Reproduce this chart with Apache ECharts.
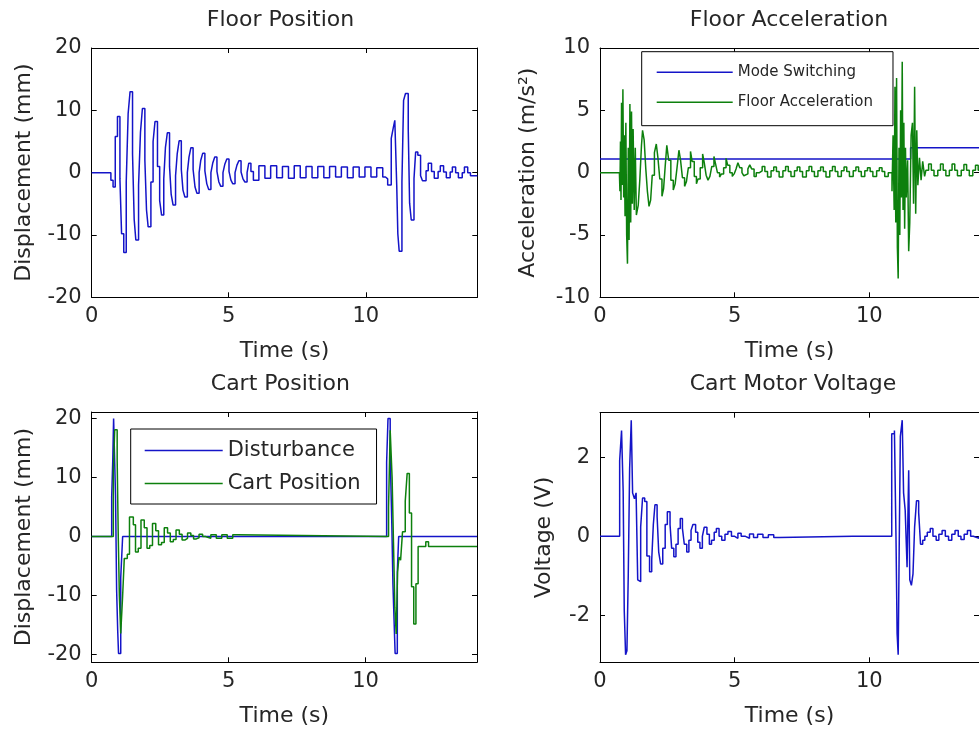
<!DOCTYPE html>
<html>
<head>
<meta charset="utf-8">
<script src="https://cdn.jsdelivr.net/npm/echarts@6/dist/echarts.min.js"></script>
<style>html,body{margin:0;padding:0;background:#fff}#c{width:979px;height:733px}</style>
</head>
<body>
<div id="c"></div>
<script>
// ---------- data (time s, value) ----------
const titles = ['Floor Position', 'Floor Acceleration', 'Cart Position', 'Cart Motor Voltage'];
const yNames = ['Displacement (mm)', 'Acceleration (m/s\u00B2)', 'Displacement (mm)', 'Voltage (V)'];
const xName = 'Time (s)';
const xTicks = [0, 5, 10];
const yTicks = [[-20, -10, 0, 10, 20], [-10, -5, 0, 5, 10], [-20, -10, 0, 10, 20], [-2, 0, 2]];
const seriesNames = ['Floor Position', 'Mode Switching', 'Floor Acceleration', 'Disturbance', 'Cart Position', 'Voltage'];

const floorPos = [
[0,0],[0.70,-1.2],[0.78,-2.3],[0.86,5.8],[0.94,9.0],[1.03,-1.0],[1.09,-9.8],[1.17,-12.8],[1.26,-1.5],[1.33,9.5],[1.40,13.0],[1.49,3.0],[1.55,-7.5],[1.61,-10.8],[1.71,-2.0],[1.78,6.5],[1.85,10.3],[1.94,2.0],[2.00,-6.0],[2.06,-8.7],[2.16,-1.5],[2.24,5.0],[2.31,8.2],[2.40,1.0],[2.48,-4.5],[2.55,-6.8],[2.63,-1.0],[2.69,4.0],[2.76,6.4],[2.84,1.0],[2.90,-3.5],[2.97,-5.2],[3.06,-0.5],[3.12,3.0],[3.19,5.1],[3.27,0.5],[3.33,-2.8],[3.40,-3.9],[3.49,0.0],[3.55,2.5],[3.62,4.0],[3.70,0.5],[3.77,-2.3],[3.84,-3.3],[3.92,0.0],[3.98,2.0],[4.05,3.1],[4.13,0.3],[4.20,-1.8],[4.27,-2.7],[4.35,0.0],[4.42,1.6],[4.49,2.5],[4.57,0.2],[4.64,-1.5],[4.71,-2.2],[4.79,0.0],[4.86,1.4],[4.93,2.2],[5.01,0.2],[5.08,-1.2],[5.15,-1.8],[5.23,0.0],[5.30,1.2],[5.37,1.9],[5.45,0.1],[5.52,-1.0],[5.59,-1.5],[5.67,0.0],[5.73,1.5],[5.81,0.2],[5.90,-1.2],
[6.10,1.1],[6.32,-0.9],[6.53,1.1],[6.75,-0.8],[6.96,1.0],[7.18,-0.9],[7.39,1.1],[7.61,-0.8],[7.82,1.0],[8.04,-0.8],[8.25,1.0],[8.47,-0.8],[8.68,1.0],[8.90,-0.7],[9.11,0.9],[9.33,-0.8],[9.54,0.9],[9.76,-0.7],[9.97,0.9],[10.19,-0.7],[10.40,0.8],[10.62,-0.7],
[10.72,-1.0],[10.80,-2.0],[10.93,5.5],[11.00,7.1],[11.06,8.4],[11.13,-2.0],[11.17,-9.8],[11.22,-12.6],[11.32,-1.5],[11.38,11.6],[11.45,12.7],[11.55,7.0],[11.60,-4.9],[11.66,-7.6],[11.76,-1.0],[11.82,3.3],[11.90,2.8],[12.00,-0.5],[12.07,-1.3],
[12.20,0.3],[12.28,1.5],[12.40,0.2],[12.50,-0.9],[12.64,0.2],[12.72,1.1],[12.84,0.1],[12.94,-0.8],[13.08,0.1],[13.16,0.9],[13.28,0.0],[13.38,-0.8],[13.52,0.0],[13.60,0.9],[13.72,0.0],[13.82,-0.5],[14.07,-0.5]
];

const modeSwitching = [[0,1.1],[11.53,2.0],[14.07,2.0]];

const floorAcc = [
[0,0],[0.72,0],[0.74,-1.5],[0.76,2.5],[0.78,-2.2],[0.80,5.6],[0.83,-1.0],[0.85,6.7],[0.88,-2.0],[0.90,3.0],[0.93,-3.5],[0.96,4.0],[0.99,-5.0],[1.02,-7.3],[1.05,2.0],[1.08,-5.4],[1.11,5.5],[1.14,-4.0],[1.17,4.9],[1.20,-2.5],[1.23,3.5],[1.27,-3.0],[1.31,2.0],[1.35,-3.4],[1.42,-2.6],[1.48,-0.5],[1.54,2.2],[1.58,3.4],[1.64,2.6],[1.70,0.3],[1.76,-1.5],[1.82,-2.7],[1.88,-2.2],[1.94,-0.2],[2.02,1.6],[2.09,2.3],[2.15,1.2],[2.22,-0.5],[2.30,-1.9],[2.36,-1.3],[2.42,0.5],[2.48,2.2],[2.55,1.0],[2.63,-0.6],[2.72,-1.4],[2.79,-0.9],[2.86,0.4],[2.93,1.8],[2.99,1.0],[3.06,-0.4],[3.14,-1.1],[3.21,-0.7],[3.28,0.4],[3.36,1.7],[3.42,0.9],[3.50,-0.3],[3.58,-0.9],[3.64,-0.5],[3.72,0.4],[3.81,1.5],[3.87,0.8],[3.94,-0.2],[4.01,-0.6],[4.08,-0.3],[4.15,0.5],[4.23,1.3],[4.29,0.7],[4.36,0.0],[4.44,-0.35],[4.51,-0.1],[4.59,0.4],[4.68,1.15],[4.74,0.6],[4.82,0.0],[4.91,-0.3],[4.98,-0.1],[5.05,0.3],[5.12,0.8],[5.19,0.4],[5.27,0.0],[5.34,-0.25],[5.41,-0.1],[5.49,0.3],[5.56,0.62],[5.63,0.3],[5.72,-0.3],[5.80,0.0],
[5.92,0.15],[6.02,0.5],[6.12,0.1],[6.22,-0.35],[6.35,0.15],[6.45,0.45],[6.55,0.1],[6.65,-0.35],[6.79,0.15],[6.89,0.5],[6.99,0.1],[7.09,-0.3],[7.22,0.15],[7.32,0.45],[7.42,0.1],[7.52,-0.35],[7.66,0.15],[7.76,0.5],[7.86,0.1],[7.96,-0.3],[8.09,0.15],[8.19,0.45],[8.29,0.1],[8.39,-0.35],[8.53,0.15],[8.63,0.5],[8.73,0.1],[8.83,-0.3],[8.96,0.15],[9.06,0.45],[9.16,0.1],[9.26,-0.3],[9.40,0.15],[9.50,0.45],[9.60,0.1],[9.70,-0.3],[9.83,0.15],[9.93,0.4],[10.03,0.1],[10.13,-0.3],[10.27,0.15],[10.37,0.4],[10.47,0.1],[10.57,-0.3],[10.70,0.0],
[10.84,-1.5],[10.88,3.0],[10.92,-3.0],[10.95,6.9],[10.98,-4.0],[11.01,7.6],[11.04,-6.0],[11.07,-8.5],[11.10,2.0],[11.13,-5.0],[11.16,5.0],[11.19,-2.0],[11.22,8.9],[11.25,-3.0],[11.28,4.0],[11.31,-4.5],[11.34,2.0],[11.37,-2.0],[11.42,1.0],[11.46,-6.3],[11.50,-4.0],[11.55,3.0],[11.60,4.0],[11.64,-2.5],[11.68,6.9],[11.72,-3.3],[11.76,3.4],[11.80,-1.0],[11.86,1.2],[11.92,-0.6],[11.98,0.9],[12.05,-0.3],
[12.10,0.2],[12.20,0.7],[12.30,0.2],[12.40,-0.25],[12.54,0.2],[12.64,0.7],[12.74,0.2],[12.84,-0.25],[12.97,0.2],[13.07,0.7],[13.17,0.2],[13.27,-0.25],[13.41,0.2],[13.51,0.65],[13.61,0.2],[13.71,-0.25],[13.84,0.2],[13.94,0.6],[14.04,0.2],[14.07,0.2]
];

const disturbance = [
[0,0],[0.73,6.7],[0.77,13.0],[0.80,20.0],[0.87,7.0],[0.91,-9.0],[0.95,-16.0],[0.98,-19.8],[1.06,-7.0],[1.13,0],
[10.77,12.6],[10.82,20.0],[10.90,14.0],[10.96,2.0],[11.00,-8.0],[11.04,-14.0],[11.08,-19.8],[11.16,-6.0],[11.21,0],[14.07,0]
];

const cartPos = [
[0,0],[0.79,10.9],[0.84,18.1],[0.93,13.0],[0.97,0.0],[1.01,-10.0],[1.06,-16.4],[1.13,-10.0],[1.19,-3.7],[1.30,-3.0],[1.38,3.3],[1.52,2.0],[1.60,-2.6],[1.70,-2.0],[1.80,2.8],[1.92,1.5],[2.02,-2.0],[2.12,-1.5],[2.22,2.2],[2.34,1.0],[2.44,-1.4],[2.55,-1.0],[2.65,1.5],[2.77,0.6],[2.87,-0.9],[2.98,-0.5],[3.08,1.1],[3.20,0.4],[3.30,-0.6],[3.40,-0.3],[3.50,0.6],[3.62,0.2],[3.72,-0.4],[3.82,-0.2],[3.92,0.4],[4.05,0.0],[4.15,-0.3],[4.35,0.3],[4.55,-0.3],[4.75,0.3],[4.95,-0.3],[5.15,0.3],[5.30,0.0],
[10.84,5.0],[10.90,18.0],[10.97,10.0],[11.02,-1.0],[11.07,-12.0],[11.12,-16.5],[11.17,-6.0],[11.22,-3.5],[11.28,-4.0],[11.35,0.8],[11.45,6.0],[11.52,10.7],[11.60,4.0],[11.68,-8.5],[11.76,-14.8],[11.84,-8.0],[11.92,-1.7],[12.20,-0.9],[12.30,-1.7],[14.07,-1.7]
];

const voltage = [
[0,0],[0.73,1.92],[0.80,2.68],[0.86,1.15],[0.90,-1.87],[0.95,-3.0],[1.00,-2.9],[1.05,-0.95],[1.10,1.71],[1.16,2.94],[1.21,1.1],[1.28,0.95],[1.34,1.1],[1.40,-1.1],[1.46,-1.15],[1.51,0.24],[1.58,0.97],[1.66,0.88],[1.74,-0.5],[1.84,-0.9],[1.92,-0.6],[1.98,0.3],[2.04,0.8],[2.12,0.5],[2.18,-0.4],[2.25,-0.7],[2.33,-0.3],[2.42,0.3],[2.50,0.62],[2.60,0.3],[2.66,-0.3],[2.74,-0.52],[2.82,-0.2],[2.90,0.2],[2.98,0.45],[3.06,0.2],[3.13,-0.2],[3.22,-0.4],[3.30,-0.1],[3.38,0.15],[3.45,0.3],[3.55,0.1],[3.63,-0.15],[3.71,-0.3],[3.80,0.0],[3.87,0.23],[3.97,0.05],[4.06,-0.2],[4.14,-0.1],[4.24,0.1],[4.32,0.2],[4.42,0.0],[4.52,-0.1],[4.64,0.05],[4.75,0.12],[4.88,0.0],[5.00,-0.05],[5.12,0.08],[5.24,0.0],[5.40,-0.05],[5.55,0.06],[5.70,-0.03],[5.85,0.05],[6.05,-0.03],[6.25,0.04],[6.45,-0.03],[6.65,0.0],
[9.38,0.05],[9.42,0],
[10.83,2.6],[10.93,2.68],[10.99,-0.1],[11.03,-2.46],[11.07,-3.0],[11.11,-0.1],[11.15,2.53],[11.22,2.94],[11.27,1.1],[11.33,0.66],[11.40,-0.78],[11.46,1.67],[11.50,-1.1],[11.56,-1.24],[11.62,-0.95],[11.68,0.24],[11.75,0.9],[11.83,0.6],[11.90,-0.2],[11.98,-0.1],[12.06,0.0],[12.15,0.1],[12.26,0.2],[12.36,0.0],[12.48,-0.1],[12.58,0.05],[12.70,0.15],[12.82,0.0],[12.94,-0.1],[13.06,0.05],[13.18,0.15],[13.30,0.0],[13.40,-0.08],[13.52,0.05],[13.64,0.15],[13.76,0.0],[13.86,-0.05],[14.07,0]
];

// ---------- layout / style ----------
const FONT = '"DejaVu Sans", Verdana, sans-serif';
const TXT = '#262626';
const BLUE = '#1414c8';
const GREEN = '#0d800d';
const FS = 22;
const TICK_FS = 21;
const grids = [
  {left: 91.7, top: 48, width: 385.6, height: 249.3},
  {left: 600, top: 48, width: 386, height: 249.3},
  {left: 91.7, top: 412, width: 385.3, height: 250.3},
  {left: 600, top: 412.7, width: 386, height: 249.6}
];
const xRange = [0, 14.07];
const yRanges = [[-20, 20], [-10, 10], [-21.3, 21.1], [-3.19, 3.13]];
const yNameGaps = [56, 61, 56, 45];
const titleTops = [4, 4, 368, 368];
const titleShift = [-9, -9, -9, -5];

const xAxes = [], yAxes = [];
grids.forEach((g, i) => {
  const line = {show: true, onZero: false, lineStyle: {color: '#000', width: 1}};
  xAxes.push({
    gridIndex: i, type: 'value', position: 'bottom', min: xRange[0], max: xRange[1],
    axisLine: line, splitLine: {show: false},
    axisTick: {show: true, inside: true, length: 5, customValues: xTicks, lineStyle: {color: '#000'}},
    axisLabel: {show: true, customValues: xTicks, margin: 9, color: TXT, fontSize: TICK_FS, fontFamily: FONT},
    name: xName, nameLocation: 'middle', nameGap: 43,
    nameTextStyle: {color: TXT, fontSize: FS, fontFamily: FONT}
  });
  xAxes.push({
    gridIndex: i, type: 'value', position: 'top', min: xRange[0], max: xRange[1],
    axisLine: line, splitLine: {show: false},
    axisTick: {show: true, inside: true, length: 5, customValues: xTicks, lineStyle: {color: '#000'}},
    axisLabel: {show: false}
  });
  yAxes.push({
    gridIndex: i, type: 'value', position: 'left', min: yRanges[i][0], max: yRanges[i][1],
    axisLine: line, splitLine: {show: false},
    axisTick: {show: true, inside: true, length: 5, customValues: yTicks[i], lineStyle: {color: '#000'}},
    axisLabel: {show: true, customValues: yTicks[i], margin: 10, color: TXT, fontSize: TICK_FS, fontFamily: FONT},
    name: yNames[i], nameLocation: 'middle', nameGap: yNameGaps[i],
    nameTextStyle: {color: TXT, fontSize: FS, fontFamily: FONT}
  });
  yAxes.push({
    gridIndex: i, type: 'value', position: 'right', min: yRanges[i][0], max: yRanges[i][1],
    axisLine: line, splitLine: {show: false},
    axisTick: {show: true, inside: true, length: 5, customValues: yTicks[i], lineStyle: {color: '#000'}},
    axisLabel: {show: false}
  });
});

function mk(name, data, gi, color, z) {
  return {
    name: name, type: 'line', data: data, step: 'end',
    xAxisIndex: gi * 2, yAxisIndex: gi * 2,
    showSymbol: false, symbol: 'none', animation: false, z: z,
    lineStyle: {color: color, width: 1.5}, itemStyle: {color: color},
    emphasis: {disabled: true}
  };
}

const option = {
  backgroundColor: '#fff',
  animation: false,
  title: titles.map((t, i) => ({
    text: t, left: grids[i].left + grids[i].width / 2 + titleShift[i], top: titleTops[i], textAlign: 'center',
    textStyle: {color: TXT, fontSize: FS, fontWeight: 'normal', fontFamily: FONT}
  })),
  grid: grids,
  xAxis: xAxes,
  yAxis: yAxes,
  legend: [
    {
      data: ['Mode Switching', 'Floor Acceleration'], orient: 'vertical',
      left: 641.7, top: 51.7, itemWidth: 76, itemHeight: 1.5, icon: 'rect', itemGap: 15,
      padding: [13, 20, 16, 15], borderColor: '#000', borderWidth: 1, backgroundColor: '#fff',
      selectedMode: false, textStyle: {color: TXT, fontSize: 15, fontFamily: FONT}
    },
    {
      data: ['Disturbance', 'Cart Position'], orient: 'vertical',
      left: 130.7, top: 429, itemWidth: 78, itemHeight: 1.5, icon: 'rect', itemGap: 12,
      padding: [11, 16, 10, 14], borderColor: '#000', borderWidth: 1, backgroundColor: '#fff',
      selectedMode: false, textStyle: {color: TXT, fontSize: 21, fontFamily: FONT}
    }
  ],
  series: [
    mk(seriesNames[0], floorPos, 0, BLUE, 2),
    mk(seriesNames[1], modeSwitching, 1, BLUE, 2),
    mk(seriesNames[2], floorAcc, 1, GREEN, 3),
    mk(seriesNames[3], disturbance, 2, BLUE, 2),
    mk(seriesNames[4], cartPos, 2, GREEN, 3),
    mk(seriesNames[5], voltage, 3, BLUE, 2)
  ]
};

const chart = echarts.init(document.getElementById('c'), null, {renderer: 'canvas'});
chart.setOption(option);
</script>
</body>
</html>
